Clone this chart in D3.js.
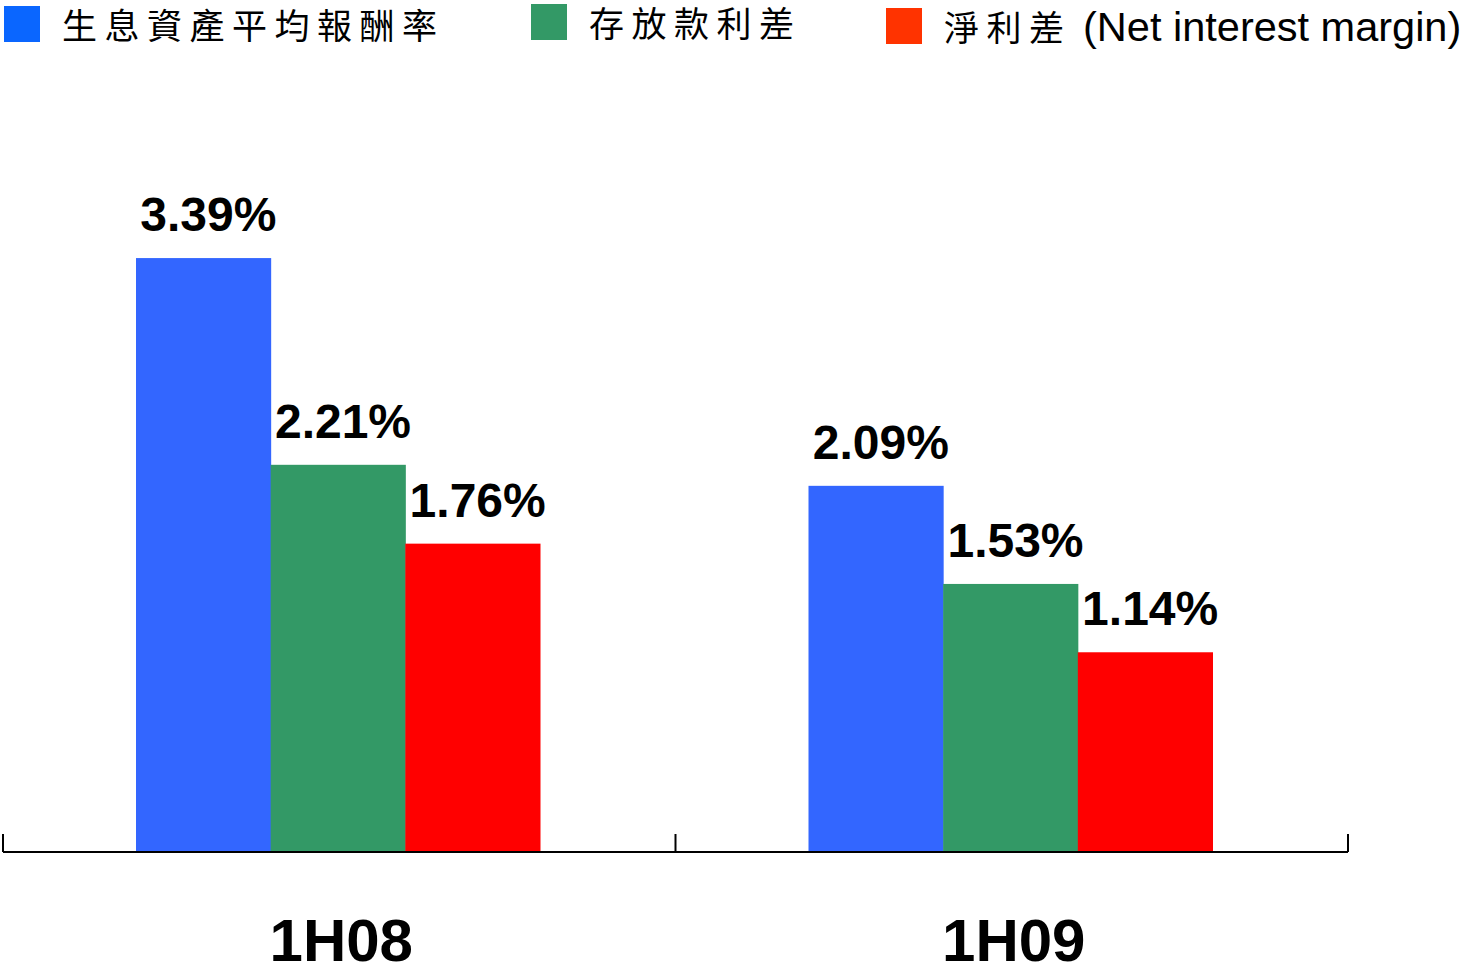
<!DOCTYPE html>
<html>
<head>
<meta charset="utf-8">
<script src="https://cdn.jsdelivr.net/npm/d3@7"></script>
<style>
  body { margin: 0; background: #fff; }
  svg { display: block; }
</style>
</head>
<body>
<div class="chart"></div>
<script>
var categories = ["1H08", "1H09"];
var seriesNames = ["生息資產平均報酬率", "存放款利差", "淨利差"];
var seriesSuffix = ["", "", " (Net interest margin)"];
var rateReturn = [3.39, 2.09];
var depositSpread = [2.21, 1.53];
var netMargin = [1.76, 1.14];

var barColors = ["#3366FF", "#339966", "#FF0000"];
var legendColors = ["#0A66FF", "#339966", "#FF3300"];

var width = 1466, height = 969;
var baseY = 852;

var svg = d3.select(".chart").append("svg")
  .attr("width", width)
  .attr("height", height);

var values = [rateReturn, depositSpread, netMargin];
var data = [];
categories.forEach(function(c, i) {
  seriesNames.forEach(function(s, j) {
    data.push({cat: c, series: j, value: values[j][i]});
  });
});

var x = d3.scaleBand().domain(categories).range([3, 1348]).padding(0);
var xs = d3.scaleBand().domain([0, 1, 2]).range([133, 537]).padding(0);
var y = d3.scaleLinear().domain([0, 4]).range([baseY, baseY - 4 * 175.2]);

// bars
svg.selectAll("rect.bar")
  .data(data)
  .enter()
  .append("rect")
  .attr("class", "bar")
  .attr("x", function(d) { return x(d.cat) + xs(d.series); })
  .attr("y", function(d) { return y(d.value); })
  .attr("width", xs.bandwidth() + 0.5)
  .attr("height", function(d) { return baseY - y(d.value); })
  .attr("fill", function(d) { return barColors[d.series]; });

// value labels
svg.selectAll("text.val")
  .data(data)
  .enter()
  .append("text")
  .attr("class", "val")
  .attr("x", function(d) { return x(d.cat) + xs(d.series) + xs.bandwidth() / 2 + 5; })
  .attr("y", function(d) { return y(d.value) - 27; })
  .attr("text-anchor", "middle")
  .attr("font-family", "Liberation Sans, Arial, sans-serif")
  .attr("font-weight", "bold")
  .attr("font-size", "48px")
  .attr("fill", "#000")
  .text(function(d) { return d.value.toFixed(2) + "%"; });

// axis line and ticks between groups
var axisG = svg.append("g").attr("stroke", "#000").attr("stroke-width", 2);
axisG.append("line")
  .attr("x1", x.range()[0]).attr("x2", x.range()[1])
  .attr("y1", baseY).attr("y2", baseY);
var tickXs = categories.map(function(c) { return x(c); }).concat([x.range()[1]]);
axisG.selectAll("line.tick")
  .data(tickXs)
  .enter()
  .append("line")
  .attr("class", "tick")
  .attr("x1", function(d) { return d; })
  .attr("x2", function(d) { return d; })
  .attr("y1", baseY)
  .attr("y2", baseY - 18);

// category labels
svg.selectAll("text.cat")
  .data(categories)
  .enter()
  .append("text")
  .attr("class", "cat")
  .attr("x", function(d) { return x(d) + x.bandwidth() / 2 + 2; })
  .attr("y", 961)
  .attr("text-anchor", "middle")
  .attr("font-family", "Liberation Sans, Arial, sans-serif")
  .attr("font-weight", "bold")
  .attr("font-size", "60px")
  .attr("fill", "#000")
  .text(function(d) { return d; });

// legend
var legendX = [4, 531, 886];
var legendY = [6, 4, 8];
var legend = svg.selectAll("g.legend")
  .data(seriesNames)
  .enter()
  .append("g")
  .attr("class", "legend")
  .attr("transform", function(d, i) { return "translate(" + legendX[i] + "," + legendY[i] + ")"; });

legend.append("rect")
  .attr("width", 36)
  .attr("height", 36)
  .attr("fill", function(d, i) { return legendColors[i]; });

var lt = legend.append("text")
  .attr("x", 58)
  .attr("y", 33)
  .attr("fill", "#000");
lt.append("tspan")
  .attr("font-family", "Noto Sans CJK TC, sans-serif")
  .attr("font-size", "35px")
  .attr("letter-spacing", "7.5px")
  .text(function(d) { return d; });
lt.append("tspan")
  .attr("font-family", "Liberation Sans, Arial, sans-serif")
  .attr("font-size", "41.5px")
  .text(function(d, i) { return seriesSuffix[i]; });
</script>
</body>
</html>
